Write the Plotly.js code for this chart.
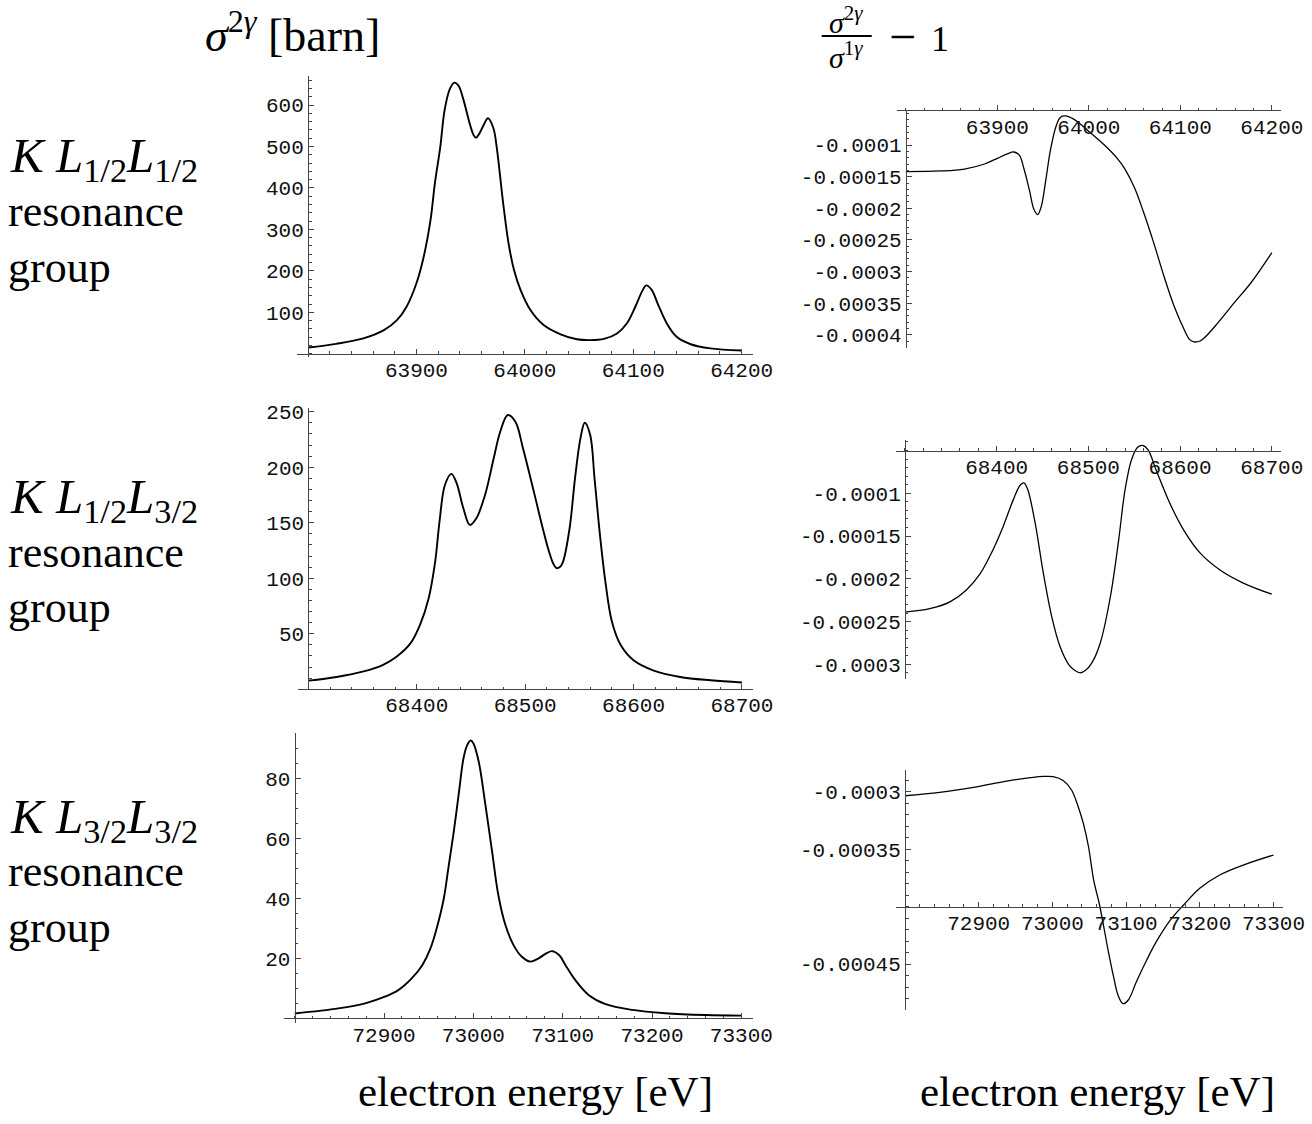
<!DOCTYPE html>
<html><head><meta charset="utf-8">
<script src="https://cdn.plot.ly/plotly-3.0.1.min.js"></script>
<style>
html,body{margin:0;padding:0;background:#fff;}
#chart{width:1312px;height:1124px;}
</style>
</head><body><div id="chart"></div>
<script>
// ---------------- data ----------------
// KL1/2L1/2 group : sigma^{2gamma} [barn]
const l1Energy = [63800, 63826, 63851, 63870, 63882, 63891, 63900, 63906, 63913, 63917, 63922, 63926, 63931, 63935, 63939, 63943, 63949.5, 63952.6, 63955, 63958, 63962, 63966, 63971, 63974, 63980, 63985, 63990, 63996, 64005, 64017, 64033, 64048, 64060, 64073, 64085, 64094, 64102, 64108, 64112, 64117, 64123, 64131, 64140, 64153, 64171, 64200];
const l1Sigma  = [15, 24, 37, 57, 81, 114, 170, 226, 323, 411, 499, 588, 640, 654, 646, 616, 552, 528, 521, 531, 552, 568, 544, 499, 363, 266, 202, 154, 106, 70, 47, 35, 33, 36, 49, 73, 114, 150, 165, 154, 118, 73, 41, 23, 13, 8];
// KL1/2L1/2 group : sigma2/sigma1 - 1
const r1Energy = [63800, 63838, 63864, 63886, 63900, 63911, 63918, 63924, 63929, 63935, 63940, 63944, 63948, 63953, 63958, 63964, 63969, 63975, 63982, 63991, 64002, 64017, 64031, 64039, 64050, 64060, 64071, 64082, 64093, 64104, 64110, 64115, 64121, 64126, 64141, 64159, 64177, 64200];
const r1Ratio  = [-1.42e-4, -1.41e-4, -1.38e-4, -1.30e-4, -1.21e-4, -1.14e-4, -1.11e-4, -1.16e-4, -1.37e-4, -1.71e-4, -2.02e-4, -2.10e-4, -1.97e-4, -1.55e-4, -1.08e-4, -0.71e-4, -0.56e-4, -0.54e-4, -0.58e-4, -0.67e-4, -0.81e-4, -1.00e-4, -1.21e-4, -1.37e-4, -1.68e-4, -2.07e-4, -2.55e-4, -3.07e-4, -3.54e-4, -3.91e-4, -4.07e-4, -4.11e-4, -4.10e-4, -4.05e-4, -3.81e-4, -3.49e-4, -3.18e-4, -2.70e-4];
// KL1/2L3/2 group
const l2Energy = [68300, 68326, 68351, 68369, 68381, 68394, 68403, 68411, 68417, 68421, 68426, 68432, 68437, 68443, 68449, 68455, 68463, 68471, 68477, 68484, 68491, 68498, 68508, 68517, 68522, 68526, 68529, 68532, 68535, 68541, 68546, 68551, 68555, 68560, 68564, 68569, 68574, 68580, 68588, 68600, 68618, 68643, 68671, 68700];
const l2Sigma  = [7.7, 11, 16, 22, 29, 41, 58, 82, 115, 151, 184, 194, 185, 163, 148, 154, 175, 208, 232, 247, 241, 217, 178, 142, 124, 113, 109, 110, 115, 145, 190, 226, 240, 229, 190, 139, 97, 61, 40, 26, 17, 11, 8, 6];
const r2Energy = [68300, 68327, 68349, 68367, 68382, 68396, 68407, 68418, 68426, 68430, 68434, 68442, 68451, 68460, 68469, 68479, 68485, 68491, 68497, 68504, 68513, 68524, 68533, 68540, 68547, 68554, 68559, 68565, 68574, 68589, 68604, 68622, 68644, 68669, 68700];
const r2Ratio  = [-2.39e-4, -2.35e-4, -2.27e-4, -2.13e-4, -1.94e-4, -1.66e-4, -1.39e-4, -1.08e-4, -0.90e-4, -0.88e-4, -0.96e-4, -1.35e-4, -1.94e-4, -2.44e-4, -2.79e-4, -3.01e-4, -3.07e-4, -3.10e-4, -3.07e-4, -2.98e-4, -2.75e-4, -2.21e-4, -1.55e-4, -0.96e-4, -0.61e-4, -0.46e-4, -0.44e-4, -0.49e-4, -0.73e-4, -1.12e-4, -1.43e-4, -1.70e-4, -1.90e-4, -2.05e-4, -2.18e-4];
// KL3/2L3/2 group
const l3Energy = [72800, 72849, 72879, 72901, 72916, 72931, 72943, 72952, 72959, 72967, 72972, 72978, 72984, 72989, 72993, 72997, 73000, 73006, 73013, 73021, 73028, 73036, 73045, 73054, 73064, 73073, 73082, 73088, 73096, 73103, 73114, 73129, 73148, 73178, 73215, 73260, 73300];
const l3Sigma  = [1.6, 3.3, 5, 7.2, 9.4, 13.3, 17.8, 23.3, 30, 40, 50, 62, 75.6, 86.7, 91, 92.6, 91.7, 85.6, 72.2, 55.6, 41, 31, 24.4, 20.6, 18.9, 20, 21.7, 22.4, 21.1, 17.8, 12.8, 7.8, 4.7, 2.8, 1.7, 1.1, 0.9];
const r3Energy = [72800, 72847, 72893, 72938, 72970, 72988, 73001, 73015, 73026, 73035, 73042, 73049, 73056, 73064, 73076, 73083, 73089, 73096, 73103, 73114, 73128, 73141, 73160, 73178, 73200, 73227, 73259, 73300];
const r3Ratio  = [-3.035e-4, -3.006e-4, -2.962e-4, -2.907e-4, -2.878e-4, -2.867e-4, -2.869e-4, -2.904e-4, -2.985e-4, -3.131e-4, -3.276e-4, -3.479e-4, -3.769e-4, -3.986e-4, -4.393e-4, -4.610e-4, -4.770e-4, -4.845e-4, -4.813e-4, -4.654e-4, -4.465e-4, -4.305e-4, -4.117e-4, -3.986e-4, -3.841e-4, -3.725e-4, -3.638e-4, -3.551e-4];

// tick labels
const x1Ticks = [63900, 64000, 64100, 64200];
const x2Ticks = [68400, 68500, 68600, 68700];
const x3Ticks = [72900, 73000, 73100, 73200, 73300];
const l1YTicks = [100, 200, 300, 400, 500, 600];
const l2YTicks = [50, 100, 150, 200, 250];
const l3YTicks = [20, 40, 60, 80];
const r1YTicks = [-0.0001, -0.00015, -0.0002, -0.00025, -0.0003, -0.00035, -0.0004];
const r1YText  = ["-0.0001", "-0.00015", "-0.0002", "-0.00025", "-0.0003", "-0.00035", "-0.0004"];
const r2YTicks = [-0.0001, -0.00015, -0.0002, -0.00025, -0.0003];
const r2YText  = ["-0.0001", "-0.00015", "-0.0002", "-0.00025", "-0.0003"];
const r3YTicks = [-0.0003, -0.00035, -0.00045];
const r3YText  = ["-0.0003", "-0.00035", "-0.00045"];

// ---------------- layout helpers ----------------
const W = 1312, H = 1124;
const px = v => v / W;
const py = v => 1 - v / H;

const panels = [
  {x: l1Energy, y: l1Sigma, xb: [297.2, 752.5], yb: [76, 357.1], xr: [63790, 64210], yr: [-8, 670], xcross: 0, ycross: 63800,
   xt: x1Ticks, yt: l1YTicks, ytt: l1YTicks.map(String), xm: 20, ym: 20, lw: 1.9},
  {x: r1Energy, y: r1Ratio, xb: [896.7, 1281], yb: [110.4, 348.2], xr: [63790, 64210], yr: [-0.000421, -0.0000453], xcross: -0.0000453, ycross: 63800,
   xt: x1Ticks, yt: r1YTicks, ytt: r1YText, xm: 20, ym: 0.00001, lw: 1.3},
  {x: l2Energy, y: l2Sigma, xb: [297.5, 752.8], yb: [407.6, 689.2], xr: [68290, 68710], yr: [0, 253.7], xcross: 0, ycross: 68300,
   xt: x2Ticks, yt: l2YTicks, ytt: l2YTicks.map(String), xm: 20, ym: 10, lw: 1.9},
  {x: r2Energy, y: r2Ratio, xb: [895.8, 1280.9], yb: [440.0, 678.5], xr: [68290, 68710], yr: [-0.0003166, -0.0000377], xcross: -0.00005, ycross: 68300,
   xt: x2Ticks, yt: r2YTicks, ytt: r2YText, xm: 20, ym: 0.00001, lw: 1.3},
  {x: l3Energy, y: l3Sigma, xb: [283.5, 752.5], yb: [733.3, 1022.8], xr: [72787.5, 73312.5], yr: [-1.5, 95], xcross: 0, ycross: 72800,
   xt: x3Ticks, yt: l3YTicks, ytt: l3YTicks.map(String), xm: 20, ym: 5, lw: 1.9},
  {x: r3Energy, y: r3Ratio, xb: [895.8, 1282.7], yb: [769.9, 1010], xr: [72787.5, 73312.5], yr: [-0.00049, -0.000281], xcross: -0.0004, ycross: 72800,
   xt: x3Ticks, yt: r3YTicks, ytt: r3YText, xm: 20, ym: 0.00001, lw: 1.3}
];

function minorVals(r, dt) {
  const out = [];
  let k = Math.ceil(r[0] / dt - 1e-9);
  while (k * dt <= r[1] + 1e-12) { out.push(+(k * dt).toPrecision(10)); k++; }
  return out;
}

const axisColor = '#444';
const tickFont = {family: 'Liberation Mono, Courier New, monospace', size: 21, color: '#111'};
const data = [];
const layout = {
  width: W, height: H, margin: {l: 0, r: 0, t: 0, b: 0},
  paper_bgcolor: '#fff', plot_bgcolor: 'rgba(0,0,0,0)', showlegend: false,
  annotations: [], shapes: []
};

panels.forEach((p, i) => {
  const n = i + 1;
  const xk = n === 1 ? 'xaxis' : 'xaxis' + n;
  const yk = n === 1 ? 'yaxis' : 'yaxis' + n;
  const xd = [px(p.xb[0]), px(p.xb[1])];
  const yd = [py(p.yb[1]), py(p.yb[0])];
  const xpos = yd[0] + (p.xcross - p.yr[0]) / (p.yr[1] - p.yr[0]) * (yd[1] - yd[0]);
  const ypos = xd[0] + (p.ycross - p.xr[0]) / (p.xr[1] - p.xr[0]) * (xd[1] - xd[0]);
  layout[xk] = {
    domain: xd, range: p.xr, anchor: 'free', position: xpos, side: 'bottom',
    showline: true, linecolor: axisColor, linewidth: 1, showgrid: false, zeroline: false,
    ticks: 'inside', ticklen: 5, tickwidth: 1, tickcolor: axisColor, ticklabelstandoff: -3,
    tickmode: 'array', tickvals: p.xt, ticktext: p.xt.map(String), tickfont: tickFont,
    minor: {tickmode: 'array', tickvals: minorVals(p.xr, p.xm), ticks: 'inside', ticklen: 2.5, tickwidth: 1, tickcolor: axisColor, showgrid: false},
    fixedrange: true
  };
  layout[yk] = {
    domain: yd, range: p.yr, anchor: 'free', position: ypos, side: 'left',
    showline: true, linecolor: axisColor, linewidth: 1, showgrid: false, zeroline: false,
    ticks: 'inside', ticklen: 5, tickwidth: 1, tickcolor: axisColor,
    tickmode: 'array', tickvals: p.yt, ticktext: p.ytt, tickfont: tickFont,
    minor: {tickmode: 'array', tickvals: minorVals(p.yr, p.ym), ticks: 'inside', ticklen: 2.5, tickwidth: 1, tickcolor: axisColor, showgrid: false},
    fixedrange: true
  };
  data.push({
    x: p.x, y: p.y, type: 'scatter', mode: 'lines',
    xaxis: 'x' + (n === 1 ? '' : n), yaxis: 'y' + (n === 1 ? '' : n),
    line: {color: '#000', width: p.lw, shape: 'spline', smoothing: 1.0},
    hoverinfo: 'skip'
  });
});

const serif = 'Liberation Serif, Times New Roman, serif';
function ann(text, x, y, size, xanchor) {
  layout.annotations.push({
    text: text, x: px(x), y: py(y), xref: 'paper', yref: 'paper',
    xanchor: xanchor || 'left', yanchor: 'middle', showarrow: false,
    font: {family: serif, size: size, color: '#000'}
  });
}

// column headers
ann('<i>σ</i><sup>2<i>γ</i></sup> [barn]', 203, 32, 46, 'left');
ann('<i>σ</i><sup>2<i>γ</i></sup>', 846, 20, 30, 'center');
ann('<i>σ</i><sup>1<i>γ</i></sup>', 846, 55, 30, 'center');
ann('−', 902, 36, 48, 'center');
ann('1', 940, 39, 36, 'center');
layout.shapes.push({type: 'line', xref: 'paper', yref: 'paper', x0: px(821.7), x1: px(871.7), y0: py(36), y1: py(36), line: {color: '#000', width: 2}});

// row labels
const groupLabels = [
  '<i>K</i> <i>L</i><sub>1/2</sub><i>L</i><sub>1/2</sub>',
  '<i>K</i> <i>L</i><sub>1/2</sub><i>L</i><sub>3/2</sub>',
  '<i>K</i> <i>L</i><sub>3/2</sub><i>L</i><sub>3/2</sub>'
];
const groupOffsets = [0, 340, 660];
groupLabels.forEach((t, i) => {
  const o = groupOffsets[i];
  ann(t, 8, 159 + o, 49, 'left');
  ann('resonance', 6, 212 + o, 44, 'left');
  ann('group', 6, 267 + o, 44, 'left');
});

// bottom axis titles
ann('electron energy [eV]', 535, 1091, 43, 'center');
ann('electron energy [eV]', 1097, 1091, 43, 'center');

Plotly.newPlot('chart', data, layout, {staticPlot: true, displayModeBar: false});
</script>
</body></html>
